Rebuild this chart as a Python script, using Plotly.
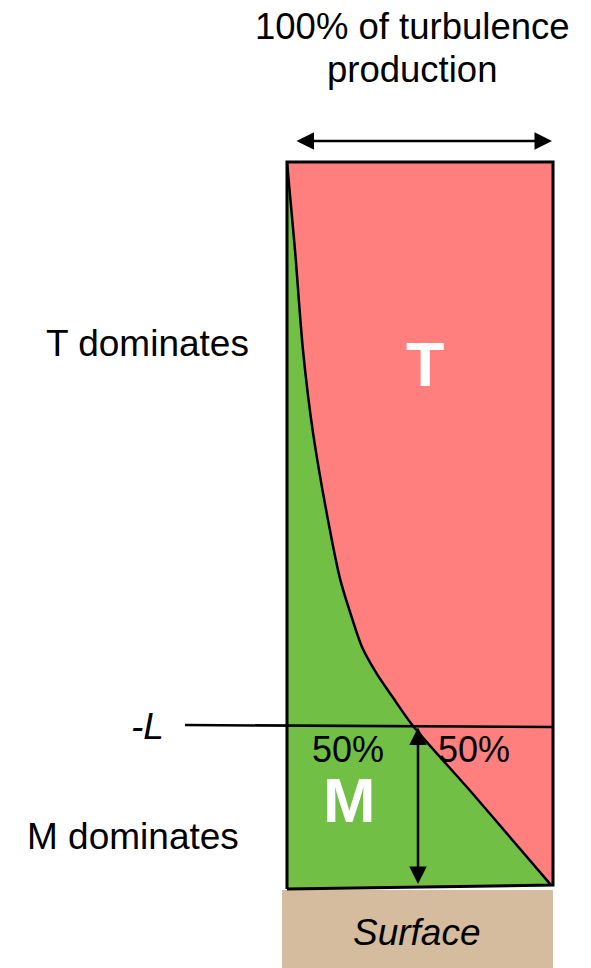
import plotly.graph_objects as go

# ---- data: share of turbulence production by M (0..1) vs normalized height (0 = surface, 1 = top)
height = [1.000, 0.879, 0.741, 0.626, 0.476, 0.423, 0.378, 0.331, 0.295, 0.262, 0.222, 0.130, 0.003]
m_share = [0.000, 0.030, 0.060, 0.098, 0.170, 0.201, 0.238, 0.282, 0.336, 0.397, 0.474, 0.695, 0.992]
L_height = 0.222          # height of -L where M and T each contribute 50%
share_labels = ["50%", "50%"]
region_labels = ["T", "M"]
side_labels = ["T dominates", "M dominates"]

# ---- layout geometry (page pixels -> axis units)
W, H = 591, 968
BX0, BX1, BY_TOP, BY_BOT = 287, 553, 162, 887
def X(px):
    return (px - BX0) / (BX1 - BX0)
def Y(py):
    return (BY_BOT - py) / (BY_BOT - BY_TOP)

GREEN = "#71BF44"
RED = "#FF7F7F"
TAN = "#D5BC9E"
FONT = "Liberation Sans, Arial, sans-serif"

fig = go.Figure()

# whole column = M (green) base
fig.add_trace(go.Scatter(
    x=[0, 1, 1, 0, 0], y=[Y(889), Y(885), 1, 1, Y(889)],
    fill="toself", fillcolor=GREEN, mode="lines",
    line=dict(width=0), hoverinfo="skip", showlegend=False))

# T (red) over the column above the end of the curve
fig.add_trace(go.Scatter(
    x=[0, 1, 1, 0, 0], y=[height[-1], height[-1], 1, 1, height[-1]],
    fill="toself", fillcolor=RED, mode="lines",
    line=dict(width=0), hoverinfo="skip", showlegend=False))

# M share (green) left of the curve, with curve outline
fig.add_trace(go.Scatter(
    x=m_share, y=height, mode="lines", fill="tozerox", fillcolor=GREEN,
    line=dict(color="black", width=2.5, shape="spline", smoothing=0.8),
    hoverinfo="skip", showlegend=False))

# box outline
fig.add_trace(go.Scatter(
    x=[0, 1, 1, 0, 0], y=[Y(889), Y(885), 1, 1, Y(889)], mode="lines",
    line=dict(color="black", width=3), hoverinfo="skip", showlegend=False))

# -L line
fig.add_trace(go.Scatter(
    x=[X(185), 1], y=[Y(725), Y(727)], mode="lines",
    line=dict(color="black", width=2.5), hoverinfo="skip", showlegend=False))

shapes = [
    dict(type="rect", xref="x", yref="y", x0=X(282), x1=X(553), y0=Y(968), y1=Y(890),
         fillcolor=TAN, line=dict(width=0), layer="below"),
]

ann = []
def txt(s, px, py, size, color="black", bold=False, italic=False):
    t = f"<b>{s}</b>" if bold else s
    t = f"<i>{t}</i>" if italic else t
    ann.append(dict(text=t, x=X(px), y=Y(py), xref="x", yref="y", showarrow=False,
                    xanchor="center", yanchor="middle",
                    font=dict(family=FONT, size=size, color=color)))

txt("100% of turbulence", 412, 26, 36.5)
txt("production", 412, 69, 36.5)
txt(side_labels[0], 147, 343, 37)
txt(side_labels[1], 133, 836, 37)
txt("-L", 147, 726, 37, italic=True)
txt(region_labels[0], 425, 364, 63, color="white", bold=True)
txt(region_labels[1], 349, 800, 63, color="white", bold=True)
txt(share_labels[0], 348, 749, 36)
txt(share_labels[1], 474, 749, 36)
txt("Surface", 417, 932, 37, italic=True)

# top double arrow (100 %)
ann.append(dict(x=X(552), y=Y(141), ax=X(295), ay=Y(141), xref="x", yref="y",
                axref="x", ayref="y", text="", showarrow=True, arrowhead=2,
                arrowside="end+start", arrowsize=1.4, arrowwidth=2.5, arrowcolor="black"))
# vertical double arrow (height of -L)
ann.append(dict(x=X(418), y=Y(884), ax=X(418), ay=L_height, xref="x", yref="y",
                axref="x", ayref="y", text="", showarrow=True, arrowhead=2,
                arrowside="end+start", arrowsize=1.4, arrowwidth=2.5, arrowcolor="black"))

fig.update_layout(
    width=W, height=H, margin=dict(l=0, r=0, t=0, b=0),
    paper_bgcolor="white", plot_bgcolor="white",
    xaxis=dict(range=[X(0), X(W)], visible=False, fixedrange=True),
    yaxis=dict(range=[Y(H), Y(0)], visible=False, fixedrange=True),
    shapes=shapes, annotations=ann, showlegend=False,
)
fig.write_html("out.html", config={"displayModeBar": False},
               post_script="document.body.style.margin='0';document.body.style.overflow='hidden';")
